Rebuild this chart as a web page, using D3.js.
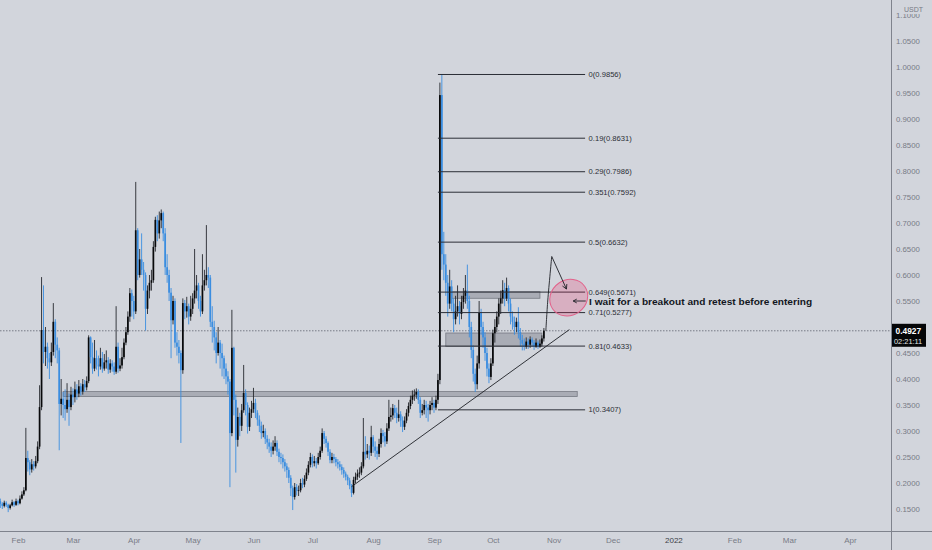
<!DOCTYPE html>
<html><head><meta charset="utf-8">
<script src="https://cdn.jsdelivr.net/npm/d3@7"></script>
<style>
html,body{margin:0;padding:0;background:#d2d5dc;overflow:hidden}
svg{display:block}
</style>
</head><body>
<svg id="chart" width="932" height="550"></svg>
<script>
// ---------- DATA ----------
const startDate = "2021-01-23";   // first daily candle
const firstOpen = 0.165;
const closes = [
0.160,0.156,0.162,0.158,0.152,0.157,0.163,0.158,0.165,0.161,
0.170,0.178,0.186,0.248,0.240,0.226,0.236,0.232,0.242,0.270,
0.346,0.494,0.452,0.462,0.440,0.432,0.452,0.510,0.466,0.455,
0.352,0.362,0.350,0.342,0.360,0.346,0.370,0.365,0.380,0.372,
0.386,0.376,0.390,0.384,0.396,0.480,0.442,0.420,0.440,0.428,
0.424,0.440,0.420,0.432,0.436,0.418,0.430,0.424,0.414,0.462,
0.420,0.426,0.442,0.470,0.490,0.520,0.565,0.550,0.530,0.686,
0.600,0.630,0.610,0.600,0.535,0.570,0.585,0.590,0.654,0.706,
0.680,0.705,0.719,0.680,0.615,0.600,0.566,0.513,0.550,0.470,
0.462,0.450,0.417,0.546,0.530,0.540,0.520,0.535,0.555,0.570,
0.580,0.550,0.530,0.580,0.590,0.600,0.595,0.510,0.500,0.480,
0.450,0.470,0.450,0.440,0.420,0.405,0.395,0.296,0.460,0.360,
0.283,0.327,0.310,0.340,0.373,0.350,0.308,0.335,0.342,0.354,
0.335,0.322,0.310,0.296,0.300,0.285,0.278,0.270,0.262,0.270,
0.277,0.260,0.250,0.248,0.240,0.232,0.225,0.210,0.190,0.173,
0.192,0.185,0.186,0.200,0.197,0.208,0.220,0.235,0.250,0.238,
0.242,0.238,0.250,0.262,0.296,0.285,0.277,0.260,0.244,0.250,
0.246,0.240,0.236,0.231,0.225,0.218,0.212,0.205,0.195,0.181,
0.206,0.212,0.218,0.220,0.232,0.260,0.255,0.262,0.258,0.288,
0.270,0.262,0.256,0.275,0.296,0.290,0.280,0.305,0.327,0.330,
0.344,0.335,0.325,0.332,0.320,0.308,0.320,0.335,0.348,0.360,
0.368,0.370,0.375,0.360,0.335,0.340,0.350,0.345,0.340,0.350,
0.354,0.345,0.360,0.398,0.946,0.640,0.620,0.585,0.545,0.578,
0.545,0.515,0.530,0.540,0.525,0.548,0.560,0.570,0.550,0.500,
0.456,0.410,0.390,0.430,0.527,0.500,0.480,0.450,0.420,0.404,
0.430,0.488,0.500,0.520,0.545,0.555,0.571,0.555,0.575,0.545,
0.520,0.510,0.500,0.510,0.490,0.475,0.468,0.462,0.472,0.466,
0.476,0.470,0.462,0.470,0.462,0.468,0.478,0.4927];
const highs = [
0.170,0.163,0.166,0.165,0.160,0.160,0.168,0.165,0.170,0.168,
0.176,0.184,0.192,0.306,0.262,0.244,0.246,0.242,0.252,0.280,
0.388,0.596,0.580,0.500,0.470,0.450,0.470,0.546,0.515,0.480,
0.460,0.400,0.375,0.380,0.392,0.372,0.385,0.382,0.395,0.390,
0.398,0.392,0.400,0.398,0.405,0.484,0.482,0.470,0.475,0.455,
0.445,0.460,0.452,0.448,0.455,0.442,0.438,0.436,0.432,0.540,
0.470,0.440,0.460,0.478,0.500,0.530,0.575,0.572,0.560,0.779,
0.690,0.650,0.680,0.625,0.605,0.580,0.600,0.610,0.665,0.712,
0.715,0.722,0.726,0.722,0.690,0.640,0.610,0.575,0.560,0.555,
0.490,0.475,0.455,0.555,0.552,0.558,0.545,0.560,0.565,0.650,
0.600,0.585,0.560,0.640,0.610,0.696,0.615,0.600,0.540,0.512,
0.490,0.500,0.475,0.468,0.445,0.430,0.415,0.400,0.533,0.462,
0.370,0.345,0.335,0.352,0.427,0.380,0.355,0.345,0.358,0.383,
0.362,0.340,0.330,0.318,0.312,0.305,0.292,0.285,0.278,0.282,
0.290,0.282,0.266,0.258,0.255,0.246,0.238,0.230,0.215,0.195,
0.200,0.198,0.195,0.208,0.210,0.215,0.228,0.242,0.258,0.255,
0.252,0.248,0.258,0.270,0.305,0.300,0.290,0.280,0.265,0.258,
0.256,0.250,0.246,0.242,0.236,0.230,0.222,0.216,0.210,0.198,
0.212,0.220,0.226,0.230,0.240,0.325,0.290,0.275,0.272,0.310,
0.292,0.280,0.270,0.285,0.305,0.302,0.298,0.315,0.360,0.345,
0.352,0.350,0.345,0.360,0.338,0.328,0.328,0.342,0.355,0.368,
0.378,0.380,0.382,0.380,0.365,0.352,0.360,0.358,0.352,0.358,
0.365,0.360,0.368,0.410,0.970,0.9856,0.683,0.640,0.600,0.610,
0.590,0.555,0.560,0.580,0.550,0.560,0.575,0.600,0.620,0.560,
0.510,0.465,0.420,0.445,0.550,0.535,0.510,0.490,0.460,0.430,
0.440,0.495,0.515,0.530,0.555,0.570,0.590,0.585,0.595,0.580,
0.555,0.530,0.520,0.518,0.538,0.498,0.485,0.478,0.480,0.478,
0.482,0.480,0.475,0.478,0.474,0.476,0.484,0.498];
const lows = [
0.152,0.150,0.153,0.154,0.144,0.149,0.155,0.154,0.156,0.157,
0.159,0.168,0.175,0.184,0.222,0.215,0.220,0.224,0.228,0.238,
0.265,0.340,0.430,0.425,0.420,0.400,0.425,0.445,0.440,0.430,
0.263,0.330,0.325,0.320,0.335,0.310,0.340,0.350,0.355,0.360,
0.365,0.368,0.370,0.375,0.378,0.392,0.430,0.410,0.415,0.418,
0.405,0.418,0.412,0.416,0.420,0.410,0.412,0.414,0.408,0.410,
0.412,0.415,0.420,0.438,0.465,0.485,0.510,0.520,0.515,0.525,
0.590,0.595,0.600,0.570,0.493,0.525,0.555,0.570,0.585,0.645,
0.665,0.670,0.690,0.665,0.600,0.585,0.550,0.440,0.505,0.460,
0.445,0.430,0.277,0.410,0.515,0.518,0.505,0.512,0.525,0.545,
0.555,0.535,0.520,0.525,0.570,0.580,0.575,0.500,0.470,0.455,
0.430,0.445,0.420,0.405,0.400,0.390,0.370,0.192,0.290,0.330,
0.220,0.270,0.290,0.300,0.335,0.330,0.295,0.300,0.325,0.335,
0.325,0.310,0.298,0.285,0.288,0.275,0.265,0.258,0.250,0.255,
0.262,0.252,0.240,0.236,0.228,0.222,0.210,0.200,0.175,0.148,
0.168,0.176,0.175,0.182,0.190,0.192,0.204,0.215,0.230,0.230,
0.232,0.228,0.235,0.245,0.258,0.275,0.268,0.252,0.238,0.238,
0.238,0.232,0.228,0.224,0.216,0.210,0.205,0.196,0.188,0.173,
0.178,0.200,0.206,0.210,0.215,0.228,0.245,0.248,0.245,0.252,
0.258,0.250,0.245,0.250,0.268,0.278,0.270,0.275,0.300,0.318,
0.322,0.325,0.315,0.318,0.308,0.298,0.302,0.315,0.328,0.342,
0.352,0.358,0.362,0.352,0.325,0.330,0.332,0.325,0.318,0.332,
0.340,0.335,0.340,0.352,0.390,0.610,0.590,0.560,0.520,0.535,
0.530,0.490,0.505,0.520,0.505,0.515,0.535,0.545,0.535,0.480,
0.440,0.395,0.375,0.380,0.420,0.485,0.460,0.435,0.405,0.392,
0.398,0.425,0.470,0.490,0.505,0.525,0.545,0.540,0.550,0.530,
0.505,0.495,0.485,0.490,0.478,0.462,0.455,0.455,0.458,0.458,
0.460,0.462,0.456,0.460,0.458,0.460,0.464,0.472];

const priceTicks = [0.15,0.20,0.25,0.30,0.35,0.40,0.45,0.50,0.55,0.60,0.65,0.70,0.75,0.80,0.85,0.90,0.95,1.00,1.05,1.10];
const monthTicks = ["2021-02-01","2021-03-01","2021-04-01","2021-05-01","2021-06-01","2021-07-01","2021-08-01","2021-09-01","2021-10-01","2021-11-01","2021-12-01","2022-01-01","2022-02-01","2022-03-01","2022-04-01"];
const monthLabels = ["Feb","Mar","Apr","May","Jun","Jul","Aug","Sep","Oct","Nov","Dec","2022","Feb","Mar","Apr"];

const fibRatios = ["0","0.19","0.29","0.351","0.5","0.649","0.71","0.81","1"];
const fibPrices = [0.9856,0.8631,0.7986,0.7592,0.6632,0.5671,0.5277,0.4633,0.3407];
const fibSpan = ["2021-09-03","2021-11-17"];

// gray zones
const zoneStarts = ["2021-02-24","2021-09-10","2021-09-07"];
const zoneEnds   = ["2021-11-13","2021-10-25","2021-10-26"];
const zoneTops   = [0.3758,0.5679,0.4885];
const zoneBottoms= [0.3662,0.5552,0.4627];

const trendDates  = ["2021-07-21","2021-11-09"];
const trendPrices = [0.193,0.495];

const pathDates  = ["2021-10-28","2021-10-29","2021-10-31"];
const pathPrices = [0.4927,0.5520,0.6356];
const arrowEnd   = ["2021-11-07T12:00:00Z",0.573];

const ellipseCenter = ["2021-11-08T16:00:00Z",0.5564];
const noteText = "I wait for a breakout and retest before entering";
const notePrice = 0.5500;
const lastPrice = 0.4927;
const countdown = "02:21:11";
const currency = "USDT";

// ---------- SCALES ----------
const W = 932, H = 550, plotR = 891, plotB = 531;
const pd = s => new Date(s.length > 10 ? s : s + "T00:00:00Z");
const x = d3.scaleUtc().domain([pd("2021-02-01"), pd("2022-04-01")]).range([18, 850]);
const y = d3.scaleLinear().domain([0.15, 1.05]).range([509, 41]);

const svg = d3.select("#chart");
const FONT = "'Liberation Sans',Arial,sans-serif";
svg.append("rect").attr("width", W).attr("height", H).attr("fill", "#d2d5dc");

svg.append("defs").append("clipPath").attr("id","plot")
  .append("rect").attr("x",0).attr("y",0).attr("width",plotR).attr("height",plotB);
const plot = svg.append("g").attr("clip-path","url(#plot)");

// zones
const zg = plot.append("g");
zoneStarts.forEach((s,i)=>{
  zg.append("rect")
    .attr("x", x(pd(s))).attr("width", x(pd(zoneEnds[i])) - x(pd(s)))
    .attr("y", y(zoneTops[i])).attr("height", y(zoneBottoms[i]) - y(zoneTops[i]))
    .attr("fill","rgba(112,116,126,0.42)").attr("stroke","rgba(95,98,108,0.75)").attr("stroke-width",0.8);
});

// current price dotted line
plot.append("line").attr("x1",0).attr("x2",plotR).attr("y1",y(lastPrice)).attr("y2",y(lastPrice))
  .attr("stroke","#5f636e").attr("stroke-width",0.8).attr("stroke-dasharray","1.5,1.5");

// candles
const start = pd(startDate);
const candles = closes.map((c,i)=>{
  const o = i ? closes[i-1] : firstOpen;
  return {date: d3.utcDay.offset(start,i), o, c,
    h: Math.max(highs[i],o,c), l: Math.min(lows[i],o,c)};
});
const UP = "#08090b", DOWN = "#3a8de0";
const cg = plot.append("g");
cg.selectAll("line.w").data(candles).join("line").attr("class","w")
  .attr("x1",d=>x(d.date)).attr("x2",d=>x(d.date))
  .attr("y1",d=>y(d.h)).attr("y2",d=>y(d.l))
  .attr("stroke",d=>d.c>=d.o?"#26282e":DOWN).attr("stroke-width",0.9);
cg.selectAll("rect.b").data(candles).join("rect").attr("class","b")
  .attr("x",d=>x(d.date)-0.85).attr("width",1.7)
  .attr("y",d=>y(Math.max(d.o,d.c)))
  .attr("height",d=>Math.max(0.8, Math.abs(y(d.o)-y(d.c))))
  .attr("fill",d=>d.c>=d.o?UP:DOWN);

// fib levels
const fg = plot.append("g");
fibPrices.forEach((p,i)=>{
  fg.append("line").attr("x1",x(pd(fibSpan[0]))).attr("x2",x(pd(fibSpan[1])))
    .attr("y1",y(p)).attr("y2",y(p)).attr("stroke","#2b2e36").attr("stroke-width",1);
  fg.append("text").attr("x",x(pd(fibSpan[1]))+3.5).attr("y",y(p)).attr("dy","0.35em")
    .attr("font-family",FONT).attr("font-size",7.6).attr("fill","#2b2e36")
    .text(`${fibRatios[i]}(${p.toFixed(4)})`);
});

// trendline
plot.append("line")
  .attr("x1",x(pd(trendDates[0]))).attr("y1",y(trendPrices[0]))
  .attr("x2",x(pd(trendDates[1]))).attr("y2",y(trendPrices[1]))
  .attr("stroke","#1e2026").attr("stroke-width",0.9);

// ellipse
const ec = [x(pd(ellipseCenter[0])), y(ellipseCenter[1])];
plot.append("ellipse").attr("cx",0).attr("cy",0).attr("rx",19.6).attr("ry",17.6)
  .attr("transform",`translate(${ec[0]},${ec[1]}) rotate(-35)`)
  .attr("fill","rgba(236,40,100,0.22)").attr("stroke","#e2618a").attr("stroke-width",1);

// projected path with arrow
const pts = pathDates.map((d,i)=>[x(pd(d)), y(pathPrices[i])]);
plot.append("path").attr("d", d3.line().curve(d3.curveCatmullRom)(pts))
  .attr("fill","none").attr("stroke","#1e2026").attr("stroke-width",0.9);
const peak = pts[pts.length-1];
const tip = [x(pd(arrowEnd[0])), y(arrowEnd[1])];
plot.append("line").attr("x1",peak[0]).attr("y1",peak[1]).attr("x2",tip[0]).attr("y2",tip[1])
  .attr("stroke","#1e2026").attr("stroke-width",0.9);
function arrowHead(from, to, len){
  const a = Math.atan2(to[1]-from[1], to[0]-from[0]);
  const p1 = [to[0]-len*Math.cos(a-0.5), to[1]-len*Math.sin(a-0.5)];
  const p2 = [to[0]-len*Math.cos(a+0.5), to[1]-len*Math.sin(a+0.5)];
  return `M${p1}L${to}L${p2}`;
}
plot.append("path").attr("d", arrowHead(peak, tip, 5)).attr("fill","none")
  .attr("stroke","#1e2026").attr("stroke-width",0.9);

// left arrow + note
const noteY = y(notePrice);
const ax1 = ec[0]+17, ax0 = ec[0]+4.5;
plot.append("line").attr("x1",ax1).attr("x2",ax0).attr("y1",noteY).attr("y2",noteY)
  .attr("stroke","#1e2026").attr("stroke-width",0.9);
plot.append("path").attr("d", arrowHead([ax1,noteY],[ax0,noteY],4)).attr("fill","none")
  .attr("stroke","#1e2026").attr("stroke-width",0.9);
svg.append("text").attr("x", x(pd(fibSpan[1]))+4).attr("y", noteY).attr("dy","0.36em")
  .attr("font-family",FONT).attr("font-weight","bold").attr("font-size",9.8)
  .attr("fill","#131722").attr("textLength",223).attr("lengthAdjust","spacingAndGlyphs")
  .text(noteText);

// ---------- AXES ----------
const yAxis = d3.axisRight(y).tickValues(priceTicks).tickSize(0).tickPadding(5)
  .tickFormat(d3.format(".4f"));
const yg = svg.append("g").attr("transform",`translate(${plotR},0)`).call(yAxis);
yg.select(".domain").remove();
yg.selectAll("text").attr("font-family",FONT).attr("font-size",7.8).attr("fill","#787b86");

const tickDates = monthTicks.map(pd);
const xAxis = d3.axisBottom(x).tickValues(tickDates).tickSize(0).tickPadding(6)
  .tickFormat((d,i)=>monthLabels[i]);
const xg = svg.append("g").attr("transform",`translate(0,${plotB})`).call(xAxis);
xg.select(".domain").remove();
xg.selectAll("text").attr("font-family",FONT).attr("font-size",8)
  .attr("fill",(d,i)=>monthLabels[i]==="2022"?"#3c3f48":"#787b86");

// axis border lines
svg.append("line").attr("x1",plotR+0.5).attr("x2",plotR+0.5).attr("y1",0).attr("y2",H)
  .attr("stroke","#7f838d").attr("stroke-width",1);
svg.append("line").attr("x1",0).attr("x2",W).attr("y1",plotB+0.5).attr("y2",plotB+0.5)
  .attr("stroke","#7f838d").attr("stroke-width",1);

// currency label on top of the axis
svg.append("rect").attr("x",plotR+10).attr("y",3).attr("width",24).attr("height",11).attr("fill","#d2d5dc");
svg.append("text").attr("x",plotR+13).attr("y",12).attr("font-family",FONT).attr("font-size",7)
  .attr("fill","#787b86").text(currency);

// last price label
const ly = y(lastPrice);
svg.append("rect").attr("x",plotR+1).attr("y",ly-7).attr("width",34).attr("height",23).attr("fill","#050608");
svg.append("text").attr("x",plotR+4.5).attr("y",ly+3).attr("font-family",FONT).attr("font-weight","bold")
  .attr("font-size",8.4).attr("fill","#ffffff").text(d3.format(".4f")(lastPrice));
svg.append("text").attr("x",plotR+3).attr("y",ly+13).attr("font-family",FONT)
  .attr("font-size",7.4).attr("fill","#e6e6e6").text(countdown);
</script>
</body></html>
